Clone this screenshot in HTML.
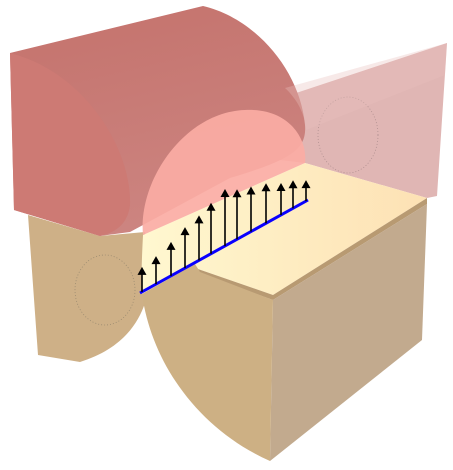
<!DOCTYPE html>
<html><head><meta charset="utf-8"><style>
html,body{margin:0;padding:0;background:#fff;width:453px;height:470px;overflow:hidden}
svg{display:block}
</style></head><body>
<svg id="s" width="453" height="470" viewBox="0 0 453 470">
  <defs>
    <linearGradient id="redg" x1="0" y1="0" x2="0.3" y2="1">
      <stop offset="0" stop-color="#c4726c"/><stop offset="1" stop-color="#cc8480"/>
    </linearGradient>
    <linearGradient id="creamg" x1="0" y1="0" x2="1" y2="0">
      <stop offset="0" stop-color="#fff8d0"/><stop offset="1" stop-color="#fde1b4"/>
    </linearGradient>
  </defs>
  <path d="M275,100 L447,43 L437,196 L427,198 L305,163 L280,160 Z" fill="#e0b6b4"/>
  <ellipse cx="348" cy="135" rx="30" ry="38" fill="none" stroke="#b09090" stroke-dasharray="1,2" stroke-width="0.8"/>
  <path d="M28,215 L100,236 L145,232 L150,270 C150,305 135,345 80,362 L38,355 Z" fill="#ceb087"/>
  <ellipse cx="105" cy="290" rx="30" ry="35" fill="none" stroke="#9a8a70" stroke-dasharray="1,2" stroke-width="0.8"/>
  <path d="M143,235 L305,163 L427,198 L273,295 L195,268 L142,294 C141,275 142,255 143,235 Z" fill="url(#creamg)"/>
  <path d="M195,268 L273,295 L427,198 L427,204 L273,300 L195,272 Z" fill="#b89a72"/>
  <path d="M273,300 L427,204 L422,340 L270,461 Z" fill="#c2aa8e"/>
  <path d="M142,294 C152,365 200,430 270,461 L273,300 L200,272 L195,264 Z" fill="#cdb084"/>
  <path d="M10,53 L203,6 C255,18 300,70 305,125 C307,150 290,160 230,178 L130,232 L100,236 L14,210 Z" fill="url(#redg)"/>
  <path d="M10,53 C85,72 132,150 130,205 C128,222 118,232 100,236 L14,210 Z" fill="#cd7a74"/>
  <path d="M285,88 L447,43 L445,75 L306,130 C305,115 298,100 285,88 Z" fill="#e8c0bd" opacity="0.35"/>
  <path d="M143,235 C138,180 185,112 245,110 C290,108 308,140 305,163 Z" fill="#fbada4" opacity="0.92"/>
  <line x1="140" y1="293" x2="308" y2="200" stroke="#0a00ff" stroke-width="3"/>
  <g id="arrows"></g>
</svg>
<script>
const arrowX = [142,156,171,185,199,211,225,237,251,266,281,293,306];
const pressure = [25,28,34,41,45,51,57,50,45,40,32,28,21];
const line = {x1:140,y1:293,x2:308,y2:200};
function baseY(x){return line.y1+(x-line.x1)*(line.y2-line.y1)/(line.x2-line.x1);}
const g=document.getElementById('arrows');
const NS='http://www.w3.org/2000/svg';
arrowX.forEach((x,i)=>{
  const b=baseY(x), t=b-pressure[i];
  const l=document.createElementNS(NS,'line');
  
  
  l.setAttribute('x1',x);l.setAttribute('y1',b);l.setAttribute('x2',x);l.setAttribute('y2',t+6);
  l.setAttribute('stroke','#000');l.setAttribute('stroke-width','1.6');
  g.appendChild(l);
  const p=document.createElementNS(NS,'polygon');
  
  
  p.setAttribute('points',`${x},${t} ${x-4.5},${t+8} ${x+4.5},${t+8}`);
  p.setAttribute('fill','#000');
  g.appendChild(p);
});
</script>
</body></html>
